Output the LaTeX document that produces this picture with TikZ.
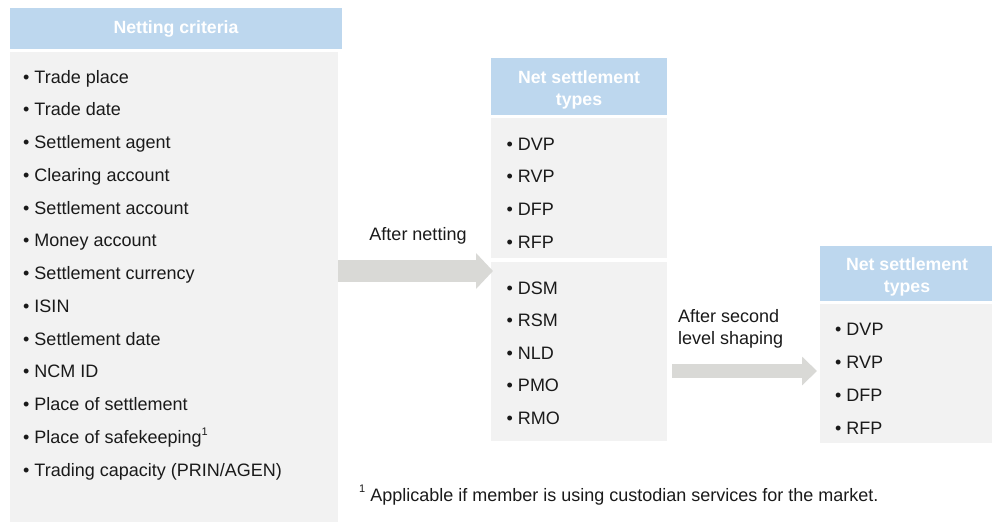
\documentclass[tikz,border=0pt]{standalone}
\usepackage{fontspec}
\setmainfont{Liberation Sans}
\usetikzlibrary{arrows.meta}
\definecolor{hdrblue}{HTML}{BDD7EE}
\definecolor{bodygray}{HTML}{F2F2F2}
\definecolor{arrgray}{HTML}{D9D9D6}
\definecolor{txt}{HTML}{1A1A1A}
\newcommand{\supone}{\raisebox{0.45em}{\fontsize{11}{11}\selectfont 1}}
\begin{document}
\begin{tikzpicture}[x=1pt,y=-1pt,
  box/.style={fill=bodygray, draw=none, inner sep=0pt, anchor=north west},
  hdrbox/.style={fill=hdrblue, draw=none, inner sep=0pt, anchor=north west},
  hdrtext/.style={inner sep=0pt, anchor=base, text=white, align=center,
    font=\fontsize{17.7}{22}\selectfont\bfseries},
  item/.style={anchor=base west, inner sep=0pt, text=txt, font=\fontsize{18}{20}\selectfont},
  lbl/.style={inner sep=0pt, text=txt, font=\fontsize{18}{21.5}\selectfont},
  fatA/.style={arrgray, line width=22pt, -{Triangle[length=17pt, width=35pt]}},
  fatB/.style={arrgray, line width=14pt, -{Triangle[length=15pt, width=28pt]}}]
\useasboundingbox (0,0) rectangle (992,522);

% left column
\node[hdrbox, minimum width=332pt, minimum height=41pt] (lhdr) at (10,8) {};
\node[hdrtext] (lhdrt) at (176,33) {Netting criteria};
\node[box, minimum width=328pt, minimum height=470pt] (lbody) at (10,52) {};

% middle column
\node[hdrbox, minimum width=176pt, minimum height=57pt] (mhdr) at (491,58) {};
\node[hdrtext] (mhdrt) at (579,105) {Net settlement\\types};
\node[box, minimum width=176pt, minimum height=140pt] (mbodyA) at (491,118) {};
\node[box, minimum width=176pt, minimum height=179pt] (mbodyB) at (491,262) {};

% right column
\node[hdrbox, minimum width=172pt, minimum height=55pt] (rhdr) at (820,246) {};
\node[hdrtext] (rhdrt) at (907,292) {Net settlement\\types};
\node[box, minimum width=172pt, minimum height=139pt] (rbody) at (820,304) {};

% arrows
\coordinate (ayA) at (0,271);
\coordinate (ayB) at (0,371);
\draw[fatA] (lbody.east |- ayA) -- ([xshift=2pt]mbodyB.west |- ayA);
\draw[fatB] ([xshift=5pt]mbodyB.east |- ayB) -- ([xshift=-3pt]rbody.west |- ayB);

\node[lbl, anchor=base] (lblA) at (418,240) {After netting};
\node[lbl, anchor=base west, align=left] (lblB) at (678,344) {After second\\level shaping};

% left items
\foreach \t [count=\i from 0] in {Trade place, Trade date, Settlement agent, Clearing account,
  Settlement account, Money account, Settlement currency, ISIN, Settlement date, NCM ID,
  Place of settlement, {Place of safekeeping\supone}, {Trading capacity (PRIN/AGEN)}}
  \node[item] (l\i) at (23, 83+32.75*\i) {• \t};

% middle items
\foreach \t [count=\i from 0] in {DVP, RVP, DFP, RFP}
  \node[item] (ma\i) at (506.5, 150+32.7*\i) {• \t};
\foreach \t [count=\i from 0] in {DSM, RSM, NLD, PMO, RMO}
  \node[item] (mb\i) at (506.5, 294+32.6*\i) {• \t};

% right items
\foreach \t [count=\i from 0] in {DVP, RVP, DFP, RFP}
  \node[item] (r\i) at (835, 335+33*\i) {• \t};

% footnote
\node[item] (fn) at (359,501) {\supone\ Applicable if member is using custodian services for the market.};
\end{tikzpicture}
\end{document}
